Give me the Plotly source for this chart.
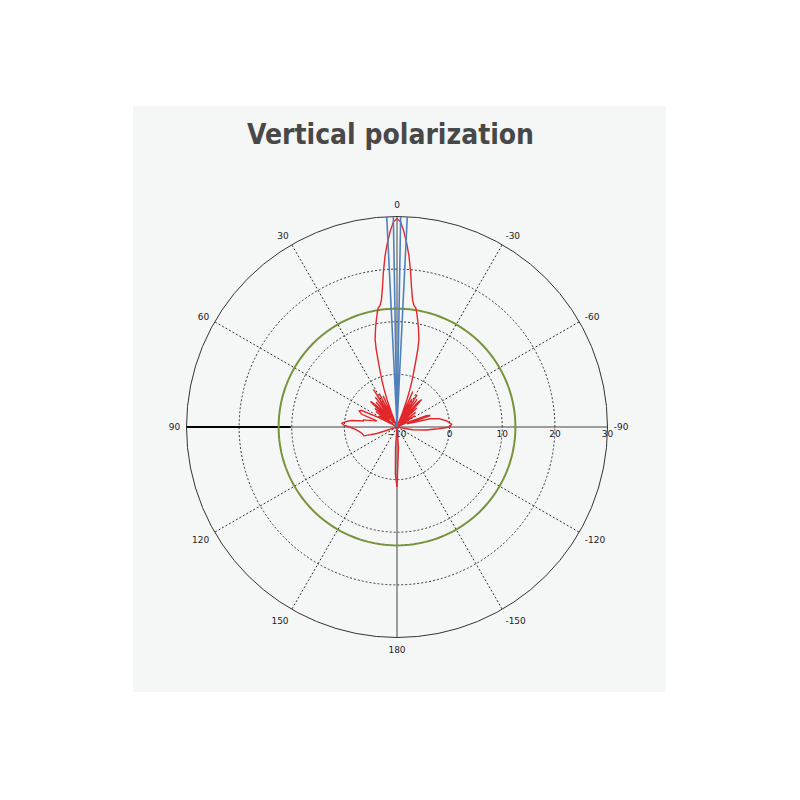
import plotly.graph_objects as go

# ---------------- data ----------------
angle_tickvals = [0, 30, 60, 90, 120, 150, 180, 210, 240, 270, 300, 330]
angle_ticktext = ["0", "30", "60", "90", "120", "150", "180", "-150", "-120", "-90", "-60", "-30"]
radial_tickvals = [-10, 0, 10, 20, 30]
dashed_spokes = [30, 60, 120, 150, 210, 240, 300, 330]

# red pattern (theta in degrees, 0 = up, positive = left)
red_theta = [
    -180, -176, -174, -170, -160, -140, -120, -110,
    -104, -100, -96, -93, -90, -87, -83, -79, -76, -73, -71, -69, -66,
    -62, -58, -55, -52, -49, -46, -44, -42, -40, -38, -36, -34, -32, -30,
    -28, -26, -24, -22,
    -21, -20, -19, -18, -17, -16, -15, -14, -13, -12, -11, -10, -9, -8,
    -7, -6, -5, -4, -3, -2, -1, 0,
    1, 2, 3, 4, 5, 6, 7, 8, 9, 10, 11, 12, 13, 14, 15, 16, 17, 18, 19, 20, 21,
    22, 24, 26, 28, 30, 32, 34, 36, 38, 40, 42, 44, 46, 48, 50, 52, 54, 56,
    58, 60, 63, 65, 67, 70, 73, 76, 78, 80, 82, 84, 86, 88, 90, 93, 97, 101,
    105, 108, 112, 120, 140, 160, 170, 174, 176, 178, 180,
]
red_r = [
    1.4, -6, -10, -10, -10, -10, -10, -10,
    -10, -7, -4.5, -2.5, 0, 0.4, -0.5, -1.8, -3.5, -8, -3.3, -4, -8,
    -10, -6, -9, -5.5, -10, -4.8, -8, -3, -4, -9, -3.5, -7.5, -2.8, -9,
    -4, -8, -2.6, -10,
    -7, -4.5, -2.5, -0.8, 0.8, 2.8, 5.3, 7.2, 8.3, 9.5, 10.6, 11.8, 12.9, 13.3,
    14.3, 16.5, 19.6, 22.6, 25.0, 27.2, 29.0, 29.6,
    29.0, 27.2, 25.0, 22.6, 19.6, 16.5, 14.3, 13.3, 12.9, 11.8, 10.6, 9.5, 8.3,
    7.2, 5.3, 2.8, 0.8, -0.8, -2.5, -4.5, -7,
    -10, -3.5, -9, -2.8, -8, -1.6, -7, -3, -9, -3.8, -8, -4.2, -3, -8, -4.5,
    -9, -5, -10,
    -6, -9, -6, -2.5, -2.2, -2.8, -6, -5, -3.5, -3.5, -1.2, -0.2, 0.5, 0.1,
    -1, -2, -2.8, -3.3,
    -3.5, -6, -10, -10, -10, -10, -10, -10, -6, -1, 1.4,
]

# blue pattern
blue_theta = [-180, -90, -10, -5, -4, -2.8, -2, -1, 0, 1, 2, 2.8, 4, 5, 10, 90, 180]
blue_r = [-10, -10, -10, -10, -10, 33, 35, 35, -10, 35, 35, 33, -10, -10, -10, -10, -10]

# green reference level
green_level = 12.5
green_theta = list(range(0, 361, 2))

# axis decorations
axis_v_theta = [0, 0, 180]
axis_v_r = [30, -10, 30]
axis_h_theta = [90, 90, 270]
axis_h_r = [30, -10, 30]
black_theta = [90, 90]
black_r = [10.2, 30]

title_text = "Vertical polarization"

# ---------------- figure ----------------
fig = go.Figure()

for a in dashed_spokes:
    fig.add_trace(go.Scatterpolar(theta=[a, a], r=[-10, 30], mode="lines",
                                  line=dict(color="#333333", width=1, dash="2px,2px"),
                                  hoverinfo="skip"))
fig.add_trace(go.Scatterpolar(theta=axis_v_theta, r=axis_v_r, mode="lines",
                              line=dict(color="#444444", width=1), hoverinfo="skip"))
fig.add_trace(go.Scatterpolar(theta=axis_h_theta, r=axis_h_r, mode="lines",
                              line=dict(color="#444444", width=1), hoverinfo="skip"))
fig.add_trace(go.Scatterpolar(theta=black_theta, r=black_r, mode="lines",
                              line=dict(color="#000000", width=2), hoverinfo="skip"))
fig.add_trace(go.Scatterpolar(theta=green_theta, r=[green_level] * len(green_theta),
                              mode="lines", line=dict(color="#77933c", width=2)))
fig.add_trace(go.Scatterpolar(theta=red_theta, r=red_r, mode="lines",
                              line=dict(color="#e3262a", width=1.4)))
fig.add_trace(go.Scatterpolar(theta=blue_theta, r=blue_r, mode="lines",
                              line=dict(color="#4f81bd", width=1.6)))

# page offset of 8 px (browser body margin) compensated
off = 8
W = 800
cx, cy, R = 397 - off, W - (427 - off), 210.5
fig.update_layout(
    width=W, height=W,
    margin=dict(l=0, r=0, t=0, b=0),
    paper_bgcolor="white",
    showlegend=False,
    polar=dict(
        domain=dict(x=[(cx - R) / W, (cx + R) / W], y=[(cy - R) / W, (cy + R) / W]),
        bgcolor="rgba(0,0,0,0)",
        angularaxis=dict(
            rotation=90, direction="counterclockwise", layer="below traces",
            tickmode="array", tickvals=angle_tickvals, ticktext=angle_ticktext,
            ticks="outside", ticklen=4, tickcolor="rgba(0,0,0,0)",
            showline=True, linecolor="#333333", linewidth=1,
            showgrid=False,
            tickfont=dict(family="DejaVu Sans", size=9, color="#222222"),
        ),
        radialaxis=dict(
            range=[-10, 30], angle=0, tickangle=0, layer="below traces",
            tickmode="array", tickvals=radial_tickvals,
            ticks="", showline=False,
            showgrid=True, gridcolor="#333333", gridwidth=1, griddash="2px,2px",
            tickfont=dict(family="DejaVu Sans", size=9, color="#222222"),
        ),
    ),
    shapes=[dict(type="rect", xref="paper", yref="paper",
                 x0=(133 - off) / W, x1=(666 - off) / W,
                 y0=1 - (692 - off) / W, y1=1 - (106 - off) / W,
                 fillcolor="#f5f6f6", line=dict(width=0), layer="below")],
    annotations=[dict(text="<b>" + title_text + "</b>", xref="paper", yref="paper",
                      x=(390 - off) / W, y=1 - (135 - off) / W,
                      xanchor="center", yanchor="middle", showarrow=False,
                      font=dict(family="DejaVu Sans Condensed", size=28, color="#484848"))],
)

fig.write_html("out.html")
